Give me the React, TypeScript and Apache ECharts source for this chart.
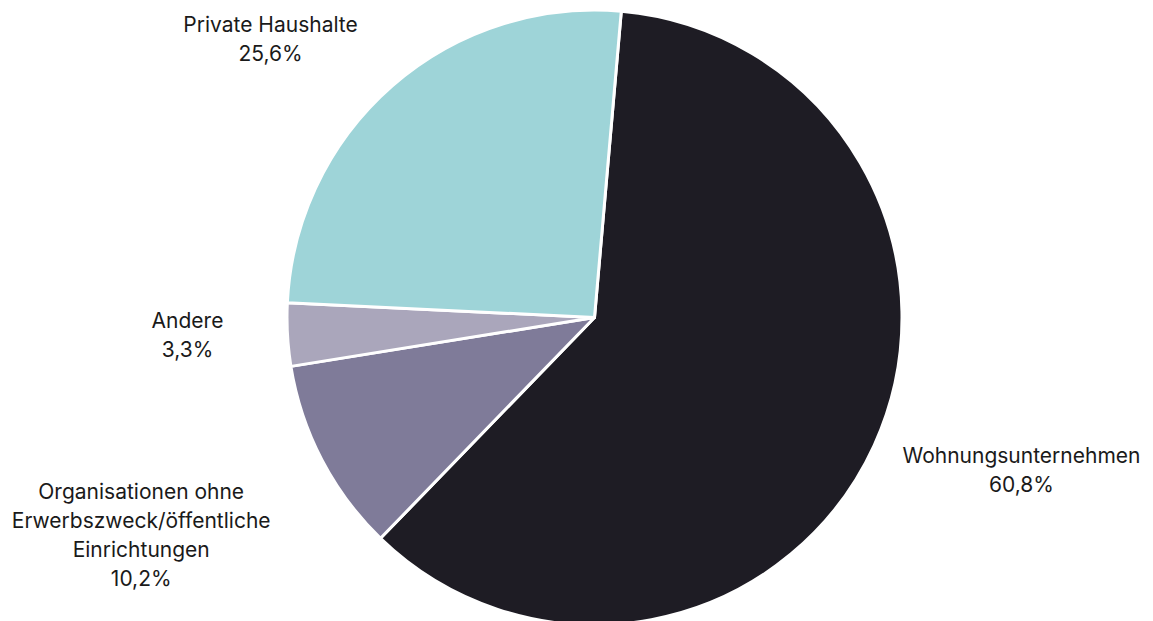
import React, { useEffect, useRef } from "react";
import * as echarts from "echarts";

const categories = [
  "Wohnungsunternehmen",
  "Organisationen ohne\nErwerbszweck/öffentliche\nEinrichtungen",
  "Andere",
  "Private Haushalte",
];
const values = [60.8, 10.2, 3.3, 25.6];
const colors = ["#1e1c24", "#7f7b99", "#aaa6bb", "#9ed4d8"];

// label nudges (px) relative to an anchor placed 30px outside the slice edge
const labelNudge: [number, number][] = [
  [120, 12],
  [-154, 62],
  [-70, -1],
  [-102, -24],
];

const CX = 594.5;
const CY = 317.5;
const R = 307.5;
const START = 85;

export default function App() {
  const ref = useRef<HTMLDivElement>(null);
  useEffect(() => {
    document.body.style.margin = "0";
    const chart = echarts.init(ref.current!, undefined, { renderer: "svg" });
    const total = values.reduce((a, b) => a + b, 0);
    const mids: number[] = [];
    let acc = START;
    values.forEach((v) => {
      const span = (v / total) * 360;
      mids.push(acc - span / 2);
      acc -= span;
    });
    const fmt = (v: number) => v.toFixed(1).replace(".", ",") + "%";
    chart.setOption({
      animation: false,
      series: [
        {
          type: "pie",
          center: [CX, CY],
          radius: [0, R],
          startAngle: START,
          clockwise: true,
          avoidLabelOverlap: false,
          itemStyle: { borderColor: "#ffffff", borderWidth: 3 },
          label: {
            show: true,
            position: "outside",
            formatter: (p: any) => p.name + "\n" + fmt(p.value),
            fontFamily: "Inter",
            fontSize: 21,
            lineHeight: 29,
            color: "#1a1a1a",
            align: "center",
          },
          labelLine: { show: false },
          emphasis: { disabled: true },
          labelLayout: (params: any) => {
            const i = params.dataIndex;
            const a = (mids[i] * Math.PI) / 180;
            const d = R + 30;
            const ax = CX + Math.cos(a) * d;
            const ay = CY - Math.sin(a) * d;
            return {
              x: ax + labelNudge[i][0],
              y: ay + labelNudge[i][1],
              align: "center",
              verticalAlign: "middle",
            };
          },
          data: categories.map((c, i) => ({
            name: c,
            value: values[i],
            itemStyle: { color: colors[i] },
          })),
        },
      ],
    });
    return () => chart.dispose();
  }, []);
  return <div ref={ref} style={{ width: 1153, height: 621 }} />;
}
